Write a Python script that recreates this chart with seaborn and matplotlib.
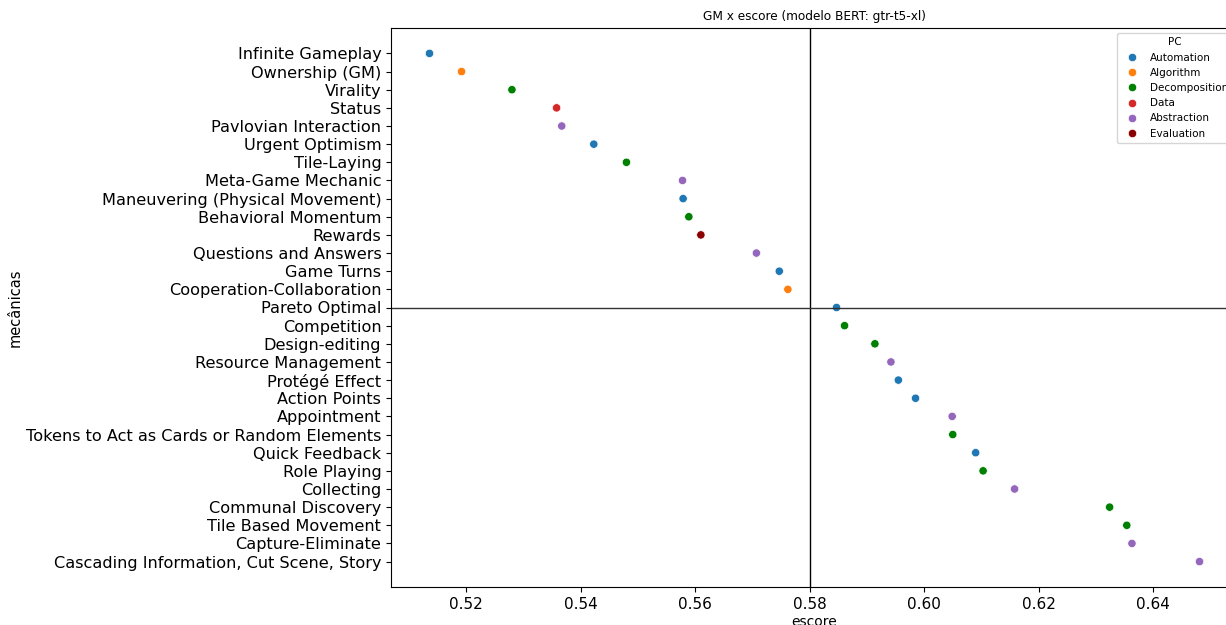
import pandas as pd
import numpy as np
import seaborn as sns
import matplotlib
matplotlib.use("Agg")
import matplotlib.pyplot as plt

mecanicas = [
    "Infinite Gameplay", "Ownership (GM)", "Virality", "Status",
    "Pavlovian Interaction", "Urgent Optimism", "Tile-Laying",
    "Meta-Game Mechanic", "Maneuvering (Physical Movement)",
    "Behavioral Momentum", "Rewards", "Questions and Answers", "Game Turns",
    "Cooperation-Collaboration", "Pareto Optimal", "Competition",
    "Design-editing", "Resource Management", "Protégé Effect",
    "Action Points", "Appointment",
    "Tokens to Act as Cards or Random Elements", "Quick Feedback",
    "Role Playing", "Collecting", "Communal Discovery",
    "Tile Based Movement", "Capture-Eliminate",
    "Cascading Information, Cut Scene, Story",
]
escore = [
    0.5136, 0.5192, 0.5280, 0.5358, 0.5367, 0.5423, 0.5480, 0.5578,
    0.5579, 0.5589, 0.5610, 0.5707, 0.5747, 0.5762, 0.5847, 0.5861,
    0.5914, 0.5942, 0.5955, 0.5985, 0.6049, 0.6050, 0.6090, 0.6103,
    0.6158, 0.6324, 0.6354, 0.6363, 0.6481,
]
pc = [
    "Automation", "Algorithm", "Decomposition", "Data", "Abstraction",
    "Automation", "Decomposition", "Abstraction", "Automation",
    "Decomposition", "Evaluation", "Abstraction", "Automation", "Algorithm",
    "Automation", "Decomposition", "Decomposition", "Abstraction",
    "Automation", "Automation", "Abstraction", "Decomposition", "Automation",
    "Decomposition", "Abstraction", "Decomposition", "Decomposition",
    "Abstraction", "Abstraction",
]
pc_order = ["Automation", "Algorithm", "Decomposition", "Data", "Abstraction", "Evaluation"]
pc_colors = ["tab:blue", "tab:orange", "green", "tab:red", "tab:purple", "darkred"]

limiar = 0.58
linha_ref = "Pareto Optimal"

df = pd.DataFrame({"mecânicas": mecanicas, "escore": escore, "PC": pc})

fig = plt.figure(figsize=(12.26, 6.25), dpi=100)
# axes runs a bit past the right edge, like the cropped original
ax = fig.add_axes([391 / 1226, 38 / 625, 847 / 1226, 559 / 625])

sns.scatterplot(data=df, x="escore", y="mecânicas", hue="PC",
                hue_order=pc_order, palette=dict(zip(pc_order, pc_colors)), ax=ax)

ax.axvline(limiar, color="black", lw=1)
ax.axhline(mecanicas.index(linha_ref), color="#333333", lw=1)

ax.tick_params(axis="y", labelsize=11.6)
ax.tick_params(axis="x", labelsize=11)
ax.set_xlabel("escore", labelpad=2)
ax.set_ylabel("mecânicas", fontsize=10.5, labelpad=2)
ax.set_title("GM x escore (modelo BERT: gtr-t5-xl)", fontsize=8.7)
ax.legend(title="PC", fontsize=7.5, title_fontsize=7.5, loc="upper right")

fig.savefig("out.png", dpi=100)
